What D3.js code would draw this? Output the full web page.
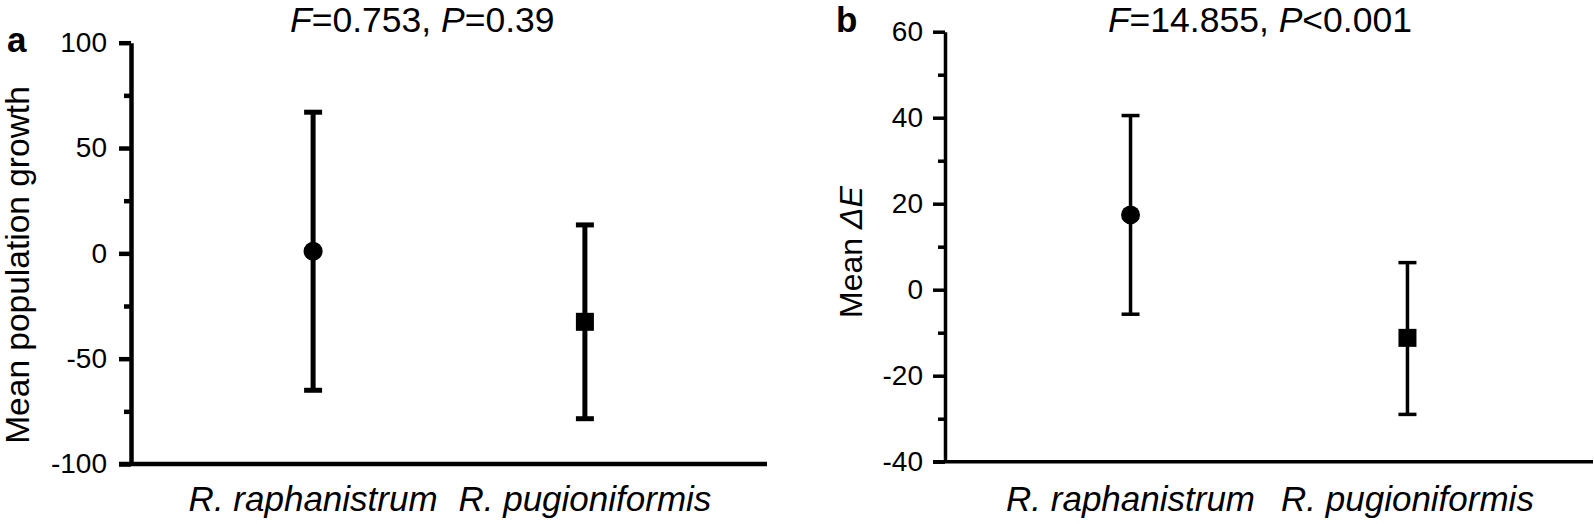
<!DOCTYPE html>
<html>
<head>
<meta charset="utf-8">
<script src="https://cdn.jsdelivr.net/npm/d3@7"></script>
<style>
  body { margin: 0; background: #fff; }
  text { font-family: "Liberation Sans", Arial, sans-serif; fill: #000; }
</style>
</head>
<body>
<svg id="chart" width="1594" height="524"></svg>
<script>
const categories = ["R. raphanistrum", "R. pugioniformis"];
const markers = ["circle", "square"];

// panel a - population growth
const growthMean = [1, -32.5];
const growthHigh = [67, 13.5];
const growthLow = [-65, -78.5];
const growthTicks = [-100, -50, 0, 50, 100];
const growthMinor = [-75, -25, 25, 75];

// panel b - delta E
const dEMean = [17.4, -11.2];
const dEHigh = [40.5, 6.3];
const dELow = [-5.7, -29];
const dETicks = [-40, -20, 0, 20, 40, 60];
const dEMinor = [-30, -10, 10, 30, 50];

const svg = d3.select("#chart");

function drawPanel(p) {
  const g = svg.append("g");

  const y = d3.scaleLinear().domain(p.domain).range([p.bottom, p.top]);
  const x = d3.scalePoint().domain(categories).range([p.left, p.right]).padding(0.67).align(0.5);

  // minor ticks
  g.append("g")
    .attr("transform", `translate(${p.left},0)`)
    .call(d3.axisLeft(y).tickValues(p.minor).tickSize(7).tickFormat(""))
    .call(a => a.select(".domain").remove())
    .selectAll("line").attr("stroke", "#000").attr("stroke-width", p.axisW);

  // major ticks + axis line
  const yAxis = g.append("g")
    .attr("transform", `translate(${p.left},0)`)
    .call(d3.axisLeft(y).tickValues(p.ticks).tickSizeInner(12).tickSizeOuter(0)
      .tickPadding(p.pad).tickFormat(d => String(d)));
  yAxis.select(".domain").attr("stroke", "#000").attr("stroke-width", p.axisW);
  yAxis.selectAll("line").attr("stroke", "#000").attr("stroke-width", p.axisW);
  yAxis.selectAll("text").attr("font-size", 28).attr("font-family", "Liberation Sans, Arial, sans-serif");

  // x axis line
  g.append("line")
    .attr("x1", p.left - 12).attr("x2", p.right)
    .attr("y1", y(p.domain[0])).attr("y2", y(p.domain[0]))
    .attr("stroke", "#000").attr("stroke-width", p.axisW);

  // category labels
  g.selectAll(".cat").data(categories).enter().append("text")
    .attr("x", d => x(d)).attr("y", 511)
    .attr("text-anchor", "middle").attr("font-size", 35).attr("font-style", "italic")
    .text(d => d);

  // error bars
  const rows = categories.map((c, i) => ({ c, m: p.mean[i], hi: p.high[i], lo: p.low[i], shape: markers[i] }));
  const capW = 18;
  g.selectAll(".err").data(rows).enter().append("line")
    .attr("x1", d => x(d.c)).attr("x2", d => x(d.c))
    .attr("y1", d => y(d.hi)).attr("y2", d => y(d.lo))
    .attr("stroke", "#000").attr("stroke-width", p.errW);
  ["hi", "lo"].forEach(k => {
    g.selectAll(".cap-" + k).data(rows).enter().append("line")
      .attr("x1", d => x(d.c) - capW / 2).attr("x2", d => x(d.c) + capW / 2)
      .attr("y1", d => y(d[k])).attr("y2", d => y(d[k]))
      .attr("stroke", "#000").attr("stroke-width", p.errW);
  });

  // markers
  g.selectAll(".pt").data(rows.filter(d => d.shape === "circle")).enter().append("circle")
    .attr("cx", d => x(d.c)).attr("cy", d => y(d.m)).attr("r", 9.5).attr("fill", "#000");
  g.selectAll(".sq").data(rows.filter(d => d.shape === "square")).enter().append("rect")
    .attr("x", d => x(d.c) - 9).attr("y", d => y(d.m) - 9)
    .attr("width", 18).attr("height", 18).attr("fill", "#000");

  // title with italic letters
  const t = g.append("text")
    .attr("x", p.left + (p.right - p.left) * p.titleFrac).attr("y", 32)
    .attr("text-anchor", "middle").attr("font-size", 35.5);
  p.title.forEach(([s, it]) => t.append("tspan").attr("font-style", it ? "italic" : "normal").text(s));

  // panel letter
  g.append("text").attr("x", p.letterX).attr("y", p.letterY)
    .attr("font-size", 35).attr("font-weight", "bold").text(p.letter);

  // y axis label
  const yl = g.append("text")
    .attr("transform", `translate(${p.ylabX},${p.ylabY}) rotate(-90)`)
    .attr("text-anchor", "middle").attr("font-size", p.ylabSize);
  p.ylabel.forEach(([s, it]) => yl.append("tspan").attr("font-style", it ? "italic" : "normal").text(s));
}

drawPanel({
  left: 131, right: 767, top: 42.7, bottom: 464,
  domain: [-100, 100], ticks: growthTicks, minor: growthMinor,
  mean: growthMean, high: growthHigh, low: growthLow,
  axisW: 4.5, errW: 5, pad: 12,
  title: [["F", true], ["=0.753, ", false], ["P", true], ["=0.39", false]], titleFrac: 0.458,
  letter: "a", letterX: 7, letterY: 52,
  ylabel: [["Mean population growth", false]], ylabX: 29, ylabY: 265, ylabSize: 33.5
});

drawPanel({
  left: 945, right: 1593, top: 31.7, bottom: 461.7,
  domain: [-40, 60], ticks: dETicks, minor: dEMinor,
  mean: dEMean, high: dEHigh, low: dELow,
  axisW: 3.5, errW: 3.5, pad: 10,
  title: [["F", true], ["=14.855, ", false], ["P", true], ["<0.001", false]], titleFrac: 0.486,
  letter: "b", letterX: 836, letterY: 32,
  ylabel: [["Mean ", false], ["\u0394E", true]], ylabX: 862, ylabY: 252, ylabSize: 32
});
</script>
</body>
</html>
